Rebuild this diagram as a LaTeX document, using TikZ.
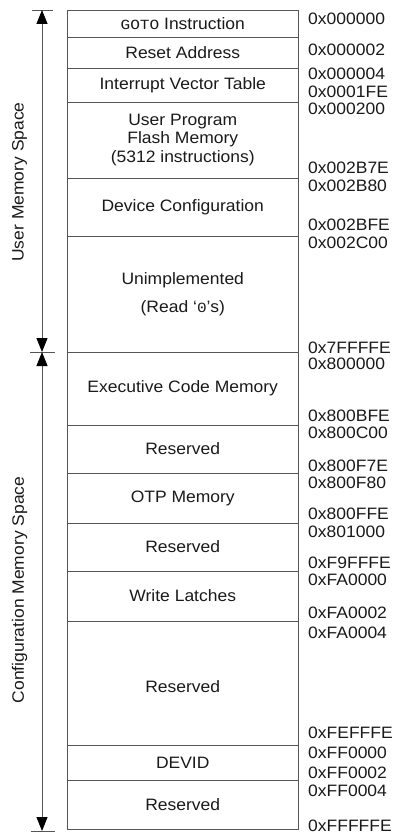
\documentclass[tikz,border=0pt]{standalone}
\usepackage{fontspec}
\setmainfont{Liberation Sans}[FakeStretch=1.06]
\newfontfamily\codefont{Liberation Mono}[FakeStretch=1.15]
\usepackage{tikz}
\usetikzlibrary{arrows.meta}

\definecolor{linegray}{HTML}{555555}
\definecolor{inkgray}{HTML}{1A1A1A}

\begin{document}
\begin{tikzpicture}[x=1pt, y=-1pt,
                    every node/.style={font=\fontsize{16.5}{18.5}\selectfont, text=inkgray},
                    region/.style={draw=linegray, thick, minimum width=230.5pt, inner sep=0pt, align=center},
                    addr/.style={anchor=west, inner sep=0pt},
                    tick/.style={draw=linegray, thick},
                    span/.style={{Triangle[length=14pt, width=11pt, fill=black, color=black]}-{Triangle[length=14pt, width=11pt, fill=black, color=black]}, draw=linegray, thick}]

    \useasboundingbox (0,0) rectangle (407,837);

    % memory regions
    \node[region, minimum height=27pt]  (goto)   at (182.75,23.5)  {{\codefont\fontsize{14}{14}\selectfont GOTO} Instruction};
    \node[region, minimum height=31pt]  (reset)  at (182.75,52.5)  {Reset Address};
    \node[region, minimum height=34pt]  (ivt)    at (182.75,85)    {Interrupt Vector Table};
    \node[region, minimum height=76pt]  (flash)  at (182.75,140)   {User Program\\Flash Memory\\(5312 instructions)};
    \node[region, minimum height=58pt]  (config) at (182.75,207)   {Device Configuration};
    \node[region, minimum height=116pt] (unimpl) at (182.75,294)   {Unimplemented\\[10pt](Read `{\codefont\fontsize{14}{14}\selectfont 0}'s)};
    \node[region, minimum height=73pt]  (exec)   at (182.75,388.5) {Executive Code Memory};
    \node[region, minimum height=48pt]  (resa)   at (182.75,449)   {Reserved};
    \node[region, minimum height=50pt]  (otp)    at (182.75,498)   {OTP Memory};
    \node[region, minimum height=48pt]  (resb)   at (182.75,547)   {Reserved};
    \node[region, minimum height=50pt]  (latch)  at (182.75,596)   {Write Latches};
    \node[region, minimum height=124pt] (resc)   at (182.75,683)   {};
    \node (resctxt) at (182.75,687) {Reserved};
    \node[region, minimum height=35pt]  (devid)  at (182.75,762.5) {DEVID};
    \node[region, minimum height=49pt]  (resd)   at (182.75,804.5) {Reserved};

    % addresses
    \node[addr] (a00) at (308,19)  {0x000000};
    \node[addr] (a01) at (308,50)  {0x000002};
    \node[addr] (a02) at (308,74)  {0x000004};
    \node[addr] (a03) at (308,92)  {0x0001FE};
    \node[addr] (a04) at (308,109) {0x000200};
    \node[addr] (a05) at (308,168) {0x002B7E};
    \node[addr] (a06) at (308,186) {0x002B80};
    \node[addr] (a07) at (308,225) {0x002BFE};
    \node[addr] (a08) at (308,243) {0x002C00};
    \node[addr] (a09) at (308,348) {0x7FFFFE};
    \node[addr] (a10) at (308,364) {0x800000};
    \node[addr] (a11) at (308,416) {0x800BFE};
    \node[addr] (a12) at (308,433) {0x800C00};
    \node[addr] (a13) at (308,466) {0x800F7E};
    \node[addr] (a14) at (308,483) {0x800F80};
    \node[addr] (a15) at (308,514) {0x800FFE};
    \node[addr] (a16) at (308,532) {0x801000};
    \node[addr] (a17) at (308,563) {0xF9FFFE};
    \node[addr] (a18) at (308,580) {0xFA0000};
    \node[addr] (a19) at (308,613) {0xFA0002};
    \node[addr] (a20) at (308,633) {0xFA0004};
    \node[addr] (a21) at (308,733) {0xFEFFFE};
    \node[addr] (a22) at (308,753) {0xFF0000};
    \node[addr] (a23) at (308,773) {0xFF0002};
    \node[addr] (a24) at (308,791) {0xFF0004};
    \node[addr] (a25) at (308,826) {0xFFFFFE};

    % space spans
    \coordinate (utop) at (42,10);
    \coordinate (umid) at (42,352);
    \coordinate (ubot) at (42,831);
    \draw[tick] (32,10) -- (53,10);
    \draw[tick] (30,352) -- (55,352);
    \draw[tick] (31,831) -- (55,831);
    \draw[span] (utop) -- (umid);
    \draw[span] (umid) -- (ubot);

    \node[rotate=90] (userlbl) at (19.5,182) {User Memory Space};
    \node[rotate=90] (cfglbl)  at (19.5,590) {Configuration Memory Space};
\end{tikzpicture}
\end{document}
